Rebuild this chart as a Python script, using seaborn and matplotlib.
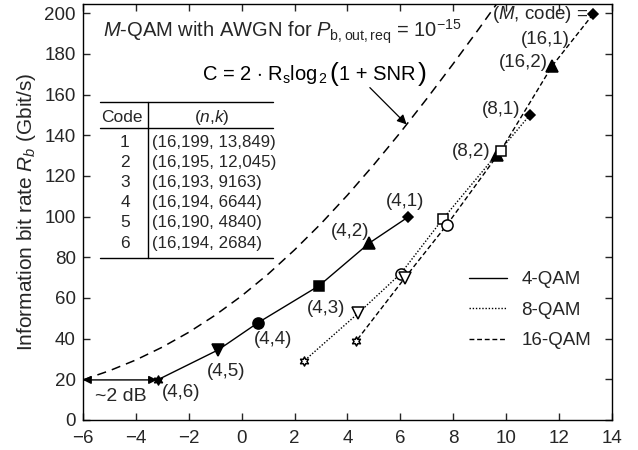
import numpy as np
import pandas as pd
import matplotlib
matplotlib.use("Agg")
import matplotlib.pyplot as plt
import seaborn as sns
from matplotlib.path import Path
from matplotlib.lines import Line2D
from matplotlib.offsetbox import TextArea, HPacker, AnnotationBbox

# ---------------- data ----------------
codes = [1, 2, 3, 4, 5, 6]
snr_4qam = [6.30, 4.83, 2.93, 0.63, -0.88, -3.18]
rate_4qam = [99.8, 87.0, 66.0, 47.9, 34.5, 19.7]
snr_8qam = [10.90, 9.64, 7.62, 6.02, 4.41, 2.36]
rate_8qam = [149.9, 130.5, 99.0, 72.0, 52.5, 29.0]
snr_16qam = [13.29, 11.74, 9.79, 7.75, 6.17, 4.32]
rate_16qam = [199.5, 174.0, 132.2, 95.7, 69.8, 38.6]

cap_snr = [-6, -5, -4, -3, -2, -1, 0, 1, 2, 3, 4, 5, 6, 7, 8, 9, 9.5, 10]
cap_rate = [19.7, 24.2, 29.5, 35.8, 43.1, 51.5, 61.0, 71.7, 83.6, 96.5,
            110.5, 125.5, 141.3, 157.9, 175.1, 192.8, 201.9, 211.0]

table_codes = ["1", "2", "3", "4", "5", "6"]
table_nk = ["(16,199, 13,849)", "(16,195, 12,045)", "(16,193, 9163)",
            "(16,194, 6644)", "(16,190, 4840)", "(16,194, 2684)"]

label_texts = ["(4,6)", "(4,5)", "(4,4)", "(4,3)", "(4,2)", "(4,1)",
               "(8,2)", "(8,1)", "(16,2)", "(16,1)"]
label_x = [-2.27, -0.57, 1.19, 3.21, 4.09, 6.17, 8.70, 9.83, 10.65, 11.47]
label_y = [13.4, 23.8, 39.4, 55.0, 92.8, 107.5, 132.2, 152.7, 175.7, 187.0]

x_ticks = [-6, -4, -2, 0, 2, 4, 6, 8, 10, 12, 14]
y_ticks = [0, 20, 40, 60, 80, 100, 120, 140, 160, 180, 200]

# ---------------- style ----------------
sns.set_style("ticks")
plt.rcParams["font.family"] = ["Liberation Sans", "DejaVu Sans"]
plt.rcParams["mathtext.fontset"] = "custom"
plt.rcParams["mathtext.rm"] = "Liberation Sans"
plt.rcParams["mathtext.it"] = "Liberation Sans:italic"
plt.rcParams["mathtext.bf"] = "Liberation Sans:bold"

fig = plt.figure(figsize=(6.38, 4.5), dpi=100)
ax = fig.add_axes([0.130, 0.0667, 0.829, 0.9244])

star = Path.unit_regular_star(6, 0.55)
marker_map = {1: "D", 2: "^", 3: "s", 4: "o", 5: "v", 6: star}
msize_map = {1: 5.5, 2: 8.0, 3: 7.8, 4: 8.0, 5: 8.0, 6: 6.5}

series = [
    ("4-QAM", snr_4qam, rate_4qam, (None, None)),
    ("8-QAM", snr_8qam, rate_8qam, (1, 1.3)),
    ("16-QAM", snr_16qam, rate_16qam, (3.5, 2)),
]

# capacity curve
cap_df = pd.DataFrame({"snr": cap_snr, "rate": cap_rate})
sns.lineplot(data=cap_df, x="snr", y="rate", ax=ax, color="black",
             linewidth=1.1, sort=False, legend=False)
ax.lines[-1].set_dashes((6, 4))

handles = []
for name, xs, ys, dash in series:
    df = pd.DataFrame({"snr": xs, "rate": ys, "code": codes})
    sns.lineplot(data=df, x="snr", y="rate", ax=ax, color="black",
                 linewidth=1.0, sort=False, legend=False)
    ln = ax.lines[-1]
    if dash[0] is not None:
        ln.set_dashes(dash)
    h = Line2D([0], [0], color="black", linewidth=1.0)
    if dash[0] is not None:
        h.set_dashes(dash)
    handles.append((h, name))
    for c, xv, yv in zip(codes, xs, ys):
        filled = (name == "4-QAM") or c in (1, 2)
        ax.plot([xv], [yv], marker=marker_map[c], markersize=msize_map[c],
                markerfacecolor="black" if filled else "white",
                markeredgecolor="black", markeredgewidth=1.1,
                linestyle="none", zorder=5)

# point labels
for t, xv, yv in zip(label_texts, label_x, label_y):
    ax.text(xv, yv, t, ha="center", va="center", fontsize=13.5)
ax.text(13.1, 199.5, r"($M$, code) =", ha="right", va="center", fontsize=13.5)

# title text
ax.text(-5.24, 191, r"$M$-QAM with AWGN for $P_{\rm b,out,req}$ = 10$^{-15}$",
        ha="left", va="center", fontsize=14.5)

# capacity formula with tall parentheses
fprops = dict(fontsize=14.5, color="black")
pprops = dict(fontsize=19, color="black", fontweight="light")
parts = [
    TextArea(r"C = 2 $\cdot$ R$_{\rm s}$log$_{\,2}$", textprops=fprops),
    TextArea("(", textprops=pprops),
    TextArea(r"1 + SNR", textprops=fprops),
    TextArea(")", textprops=pprops),
]
pack = HPacker(children=parts, align="center", pad=0, sep=1)
ab = AnnotationBbox(pack, (-1.5, 170), xycoords="data",
                    box_alignment=(0, 0.5), frameon=False, pad=0)
ax.add_artist(ab)

ax.annotate("", xy=(6.24, 145.3), xytext=(4.85, 163.4),
            arrowprops=dict(arrowstyle="-|>", color="black", lw=0.9,
                            mutation_scale=14, shrinkA=0, shrinkB=0))

# ~2 dB arrow
ax.annotate("", xy=(-6, 19.7), xytext=(-3.2, 19.7),
            arrowprops=dict(arrowstyle="<|-|>", color="black", lw=1.0,
                            mutation_scale=12, shrinkA=0, shrinkB=0))
ax.text(-4.56, 11.3, "~2 dB", ha="center", va="center", fontsize=14)

# table
ax.plot([-5.36, 1.18], [156.5, 156.5], color="black", lw=1.0)
ax.plot([-5.36, 1.18], [143.7, 143.7], color="black", lw=1.0)
ax.plot([-5.36, 1.18], [79.8, 79.8], color="black", lw=1.0)
ax.plot([-3.53, -3.53], [156.5, 79.8], color="black", lw=1.0)
ax.text(-4.54, 148.6, "Code", ha="center", va="center", fontsize=12.5)
ax.text(-1.13, 148.6, r"($n$,$k$)", ha="center", va="center", fontsize=12.5)
row_y = [136.3, 126.5, 116.6, 106.7, 96.9, 87.0]
for cd, nk, yv in zip(table_codes, table_nk, row_y):
    ax.text(-4.41, yv, cd, ha="center", va="center", fontsize=12.5)
    ax.text(-3.40, yv, nk, ha="left", va="center", fontsize=12.2)

# axes
ax.set_xlim(-6, 14)
ax.set_ylim(0, 204.5)
ax.set_xticks(x_ticks)
ax.set_yticks(y_ticks)
ax.set_xticklabels([("\u2212%d" % -v) if v < 0 else str(v) for v in x_ticks])
ax.tick_params(direction="in", length=5, width=1, top=True, right=True,
               labelsize=13.5)
ax.tick_params(axis="x", pad=7)
ax.tick_params(axis="y", pad=5)
for s in ax.spines.values():
    s.set_linewidth(1.0)
    s.set_color("black")
ax.set_xlabel("")
ax.set_ylabel(r"Information bit rate $R_b$ (Gbit/s)", fontsize=15, labelpad=5)

leg = ax.legend([h for h, _ in handles], [n for _, n in handles],
                loc="upper left", bbox_to_anchor=(0.73, 0.358),
                frameon=False, fontsize=13.5, handlelength=2.0,
                handletextpad=0.8, labelspacing=0.72, borderpad=0,
                borderaxespad=0)

fig.savefig("out.png", dpi=100)
